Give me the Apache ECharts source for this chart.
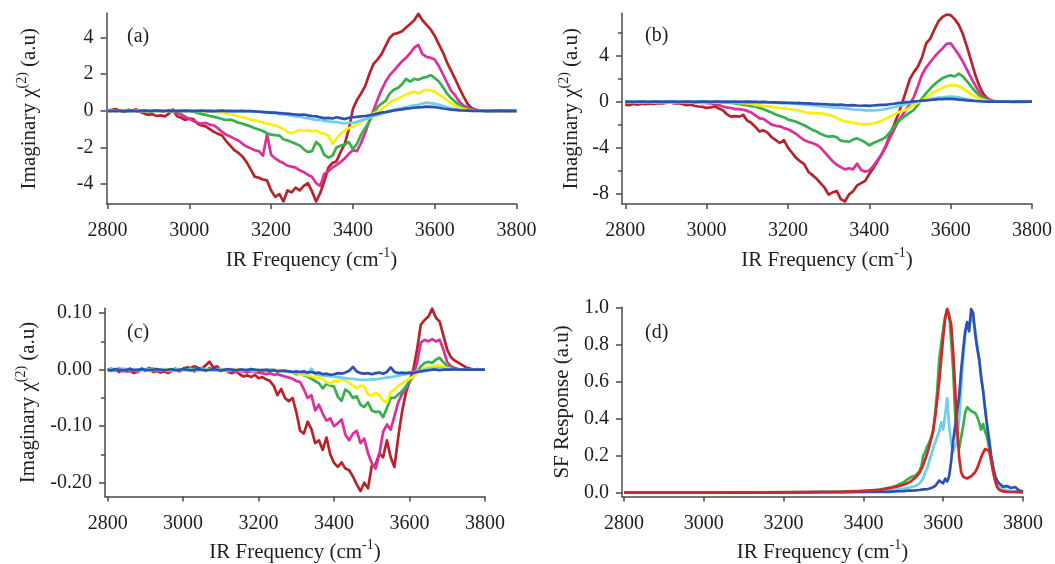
<!DOCTYPE html>
<html><head><meta charset="utf-8">
<script src="https://cdn.jsdelivr.net/npm/echarts@6.0.0/dist/echarts.min.js"></script>
<style>html,body{margin:0;padding:0;background:#fff}#c{width:1055px;height:564px}</style>
</head><body><div id="c"></div><script>
// ---------- DATA ----------
const FREQ = [2800,2810,2820,2830,2840,2850,2860,2870,2880,2890,2900,2910,2920,2930,2940,2950,2960,2970,2980,2990,
3000,3010,3020,3030,3040,3050,3060,3070,3080,3090,3100,3110,3120,3130,3140,3150,3160,3170,3180,3190,
3200,3210,3220,3230,3240,3250,3260,3270,3280,3290,3300,3310,3320,3330,3340,3350,3360,3370,3380,3390,
3400,3410,3420,3430,3440,3450,3460,3470,3480,3490,3500,3510,3520,3530,3540,3550,3560,3570,3580,3590,
3600,3610,3620,3630,3640,3650,3660,3670,3680,3690,3700,3710,3720,3730,3740,3750,3760,3770,3780,3790,3800];

const FREQ_D = [2800,2850,2900,2950,3000,3050,3100,3150,3200,3250,3300,3350,3400,
3410,3420,3430,3440,3450,3460,3470,3480,3490,3500,3510,3520,
3525,3530,3535,3540,3545,3550,3555,3560,3565,3570,3575,3580,3585,3590,3595,3600,3605,3610,3615,3620,
3625,3630,3635,3640,3645,3650,3655,3660,3665,3670,3675,3680,3685,3690,3695,3700,3705,3710,3715,3720,
3725,3730,3735,3740,3745,3750,3760,3770,3780,3790,3800];

const X_TICKS = [2800,3000,3200,3400,3600,3800];

// panel (a)
const RED_A = [0.0,0.05,0.1,0.0,-0.05,0.05,0.0,0.08,-0.05,-0.15,
-0.22,-0.18,-0.28,-0.25,-0.3,-0.15,0.08,-0.3,-0.38,-0.5,
-0.42,-0.45,-0.7,-0.8,-0.85,-1.0,-1.15,-1.25,-1.35,-1.65,
-1.9,-2.15,-2.3,-2.5,-2.8,-3.2,-3.6,-3.65,-3.75,-3.8,
-4.35,-4.7,-4.55,-4.95,-4.35,-4.45,-4.2,-4.35,-4.1,-3.95,
-4.4,-4.95,-4.5,-3.85,-3.1,-2.85,-2.75,-2.25,-1.8,-1.0,
0.1,0.6,0.95,1.35,2.0,2.55,2.8,3.1,3.55,4.0,
4.2,4.25,4.35,4.55,4.75,4.95,5.3,4.95,4.7,4.45,
4.1,3.65,3.2,2.65,2.2,1.75,1.25,0.8,0.4,0.15,
0.06,0.03,0.01,0.0,0.01,0.0,-0.01,0.0,0.01,0.0,0.0];
const MAG_A = [0.0,0.02,-0.02,0.03,0.0,-0.02,0.02,0.0,-0.03,0.02,
0.0,-0.02,0.03,-0.02,0.0,0.02,-0.05,-0.1,-0.2,-0.32,
-0.45,-0.55,-0.65,-0.7,-0.66,-0.75,-0.8,-0.95,-1.15,-1.3,
-1.4,-1.52,-1.62,-1.8,-1.95,-2.05,-2.15,-2.2,-2.45,-1.3,
-2.4,-2.6,-2.75,-2.85,-3.0,-3.05,-3.1,-3.25,-3.35,-3.5,
-3.6,-3.95,-4.1,-3.45,-3.3,-3.1,-2.95,-2.8,-2.6,-2.35,
-2.15,-2.2,-1.75,-1.2,-0.55,0.0,0.6,1.15,1.6,1.95,
2.2,2.45,2.7,2.9,3.15,3.45,3.6,3.1,2.95,2.9,
2.8,2.45,2.0,1.55,1.1,0.85,0.5,0.3,0.18,0.1,
0.05,0.02,0.01,0.0,0.0,0.01,0.0,0.0,-0.01,0.0,0.0];
const GRN_A = [0.0,0.01,-0.01,0.02,0.0,-0.02,0.01,0.0,0.02,-0.01,
0.0,0.01,-0.02,0.0,0.02,0.0,-0.01,0.01,-0.02,0.0,
-0.02,-0.05,-0.12,-0.18,-0.22,-0.28,-0.33,-0.38,-0.45,-0.5,
-0.48,-0.55,-0.65,-0.7,-0.78,-0.85,-0.95,-1.02,-1.1,-1.22,
-1.3,-1.33,-1.35,-1.55,-1.62,-1.7,-1.8,-1.9,-2.1,-2.25,
-2.2,-1.7,-1.9,-2.4,-2.55,-2.45,-2.0,-1.9,-1.85,-1.7,
-2.1,-1.8,-1.3,-0.95,-0.6,-0.15,0.2,0.4,0.55,0.95,
1.15,1.25,1.45,1.75,1.6,1.75,1.7,1.8,1.85,1.95,
1.8,1.6,1.3,0.95,0.7,0.5,0.3,0.18,0.1,0.05,
0.02,0.01,0.0,0.01,0.0,-0.01,0.0,0.0,0.01,0.0,0.0];
const YEL_A = [0.0,-0.01,0.01,0.0,0.02,0.0,-0.01,0.01,0.0,-0.02,
0.0,0.01,0.0,-0.01,0.02,0.0,-0.01,0.0,0.01,-0.02,
-0.01,0.0,-0.02,-0.01,-0.03,-0.02,-0.05,-0.08,-0.1,-0.15,
-0.2,-0.22,-0.3,-0.35,-0.4,-0.48,-0.52,-0.58,-0.62,-0.7,
-0.75,-0.8,-0.88,-1.0,-1.15,-1.22,-1.15,-1.05,-1.1,-1.05,
-1.12,-1.08,-1.2,-1.25,-1.35,-1.8,-1.5,-1.25,-1.1,-0.95,
-0.85,-0.75,-0.6,-0.45,-0.3,-0.15,-0.05,0.08,0.25,0.45,
0.58,0.65,0.78,0.9,0.97,1.05,0.95,1.08,1.15,1.12,
1.05,0.9,0.75,0.58,0.42,0.28,0.18,0.1,0.05,0.02,
0.01,0.0,0.0,0.01,0.0,0.0,-0.01,0.0,0.0,0.0,0.0];
const CYN_A = [0.0,0.02,-0.01,0.0,0.01,-0.02,0.0,0.01,0.0,-0.01,
0.01,0.0,-0.02,0.0,0.01,0.0,-0.01,0.02,0.0,-0.01,
0.0,0.01,-0.01,0.0,0.02,0.0,-0.02,0.0,0.01,-0.01,
0.0,-0.02,0.0,-0.01,-0.03,-0.02,-0.05,-0.05,-0.08,-0.1,
-0.1,-0.12,-0.18,-0.2,-0.22,-0.25,-0.3,-0.32,-0.38,-0.4,
-0.45,-0.5,-0.48,-0.55,-0.58,-0.6,-0.62,-0.65,-0.68,-0.66,
-0.65,-0.6,-0.52,-0.45,-0.4,-0.3,-0.22,-0.15,-0.08,0.0,
0.05,0.1,0.15,0.2,0.25,0.3,0.33,0.4,0.45,0.42,
0.38,0.33,0.27,0.2,0.14,0.1,0.06,0.03,0.02,0.01,
0.0,0.01,0.0,0.0,-0.01,0.0,0.0,0.01,0.0,0.0,0.0];
const BLU_A = [0.0,-0.01,0.01,0.0,-0.02,0.0,0.01,-0.01,0.0,0.01,
-0.01,0.0,0.02,0.0,-0.01,0.01,0.0,-0.02,0.0,0.01,
0.0,-0.01,0.0,0.01,-0.01,0.0,-0.02,0.0,0.01,-0.01,
0.0,-0.01,-0.02,0.0,-0.01,-0.02,-0.03,-0.05,-0.06,-0.08,
-0.1,-0.1,-0.12,-0.14,-0.15,-0.18,-0.2,-0.22,-0.2,-0.25,
-0.28,-0.3,-0.35,-0.4,-0.38,-0.42,-0.35,-0.4,-0.45,-0.38,
-0.35,-0.33,-0.3,-0.28,-0.25,-0.2,-0.15,-0.1,-0.07,-0.03,
0.02,0.05,0.08,0.12,0.14,0.17,0.19,0.2,0.23,0.22,
0.2,0.17,0.13,0.1,0.07,0.05,0.03,0.02,0.01,0.0,
0.01,0.0,0.0,-0.01,0.0,0.0,0.01,0.0,0.0,0.0,0.0];

// panel (b)
const RED_B = [-0.25,-0.3,-0.2,-0.25,-0.18,-0.22,-0.15,-0.2,-0.12,-0.15,
-0.1,-0.05,-0.15,-0.12,-0.2,-0.3,-0.25,-0.35,-0.42,-0.45,
-0.55,-0.5,-0.4,-0.6,-0.75,-1.1,-1.3,-1.25,-1.3,-1.15,
-1.65,-1.85,-2.2,-2.6,-2.5,-2.7,-3.1,-3.35,-3.6,-3.35,
-4.0,-4.45,-4.9,-5.2,-5.45,-6.1,-6.4,-6.7,-7.1,-7.5,
-8.1,-7.9,-7.8,-8.5,-8.7,-8.1,-7.8,-7.3,-7.1,-6.9,
-6.3,-5.8,-5.2,-4.6,-3.9,-3.0,-2.1,-1.2,-0.2,0.9,
2.0,2.6,3.1,3.9,5.1,5.5,6.3,7.0,7.4,7.6,
7.55,7.2,6.7,5.9,4.8,3.6,2.4,1.4,0.7,0.3,
0.1,0.03,0.0,0.01,0.0,0.0,-0.01,0.0,0.0,0.0,0.0];
const MAG_B = [-0.05,-0.08,-0.06,-0.1,-0.07,-0.05,-0.09,-0.06,-0.08,-0.05,
-0.07,-0.04,-0.06,-0.08,-0.05,-0.07,-0.06,-0.09,-0.08,-0.1,
-0.1,-0.15,-0.2,-0.3,-0.42,-0.5,-0.55,-0.65,-0.65,-0.7,
-0.8,-0.95,-1.2,-1.45,-1.5,-1.75,-2.0,-2.1,-2.15,-2.3,
-2.4,-2.6,-2.8,-3.1,-3.35,-3.5,-3.6,-3.75,-4.0,-4.4,
-4.8,-5.2,-5.5,-5.7,-5.9,-5.8,-5.9,-5.4,-5.95,-6.1,
-6.0,-5.6,-5.1,-4.6,-4.0,-3.2,-2.5,-1.8,-1.25,-0.7,
-0.2,0.45,1.4,2.4,3.0,3.45,3.9,4.3,4.65,5.05,
5.1,4.6,4.1,3.5,2.8,2.1,1.45,0.85,0.45,0.2,
0.08,0.02,0.0,0.01,0.0,0.0,0.0,-0.01,0.0,0.0,0.0];
const GRN_B = [-0.03,-0.05,-0.02,-0.06,-0.04,-0.03,-0.05,-0.02,-0.04,-0.06,
-0.03,-0.05,-0.04,-0.02,-0.05,-0.04,-0.06,-0.03,-0.05,-0.04,
-0.05,-0.06,-0.04,-0.07,-0.06,-0.08,-0.1,-0.15,-0.2,-0.27,
-0.3,-0.38,-0.42,-0.55,-0.65,-0.8,-0.95,-1.12,-1.25,-1.35,
-1.55,-1.65,-1.75,-1.9,-2.05,-2.25,-2.45,-2.6,-2.8,-2.95,
-3.05,-3.0,-3.1,-3.4,-3.45,-3.5,-3.3,-3.2,-3.35,-3.55,
-3.8,-3.6,-3.45,-3.3,-3.1,-2.7,-2.2,-1.8,-1.45,-1.2,
-0.95,-0.7,-0.25,0.3,0.75,1.15,1.5,1.8,2.05,2.2,
2.3,2.2,2.45,2.2,1.8,1.35,0.9,0.55,0.3,0.15,
0.06,0.02,0.0,0.0,0.01,0.0,0.0,0.0,-0.01,0.0,0.0];
const YEL_B = [-0.02,-0.04,-0.03,-0.05,-0.02,-0.04,-0.03,-0.05,-0.02,-0.04,
-0.03,-0.05,-0.04,-0.02,-0.04,-0.03,-0.05,-0.04,-0.03,-0.05,
-0.04,-0.03,-0.05,-0.04,-0.06,-0.05,-0.07,-0.08,-0.1,-0.12,
-0.15,-0.2,-0.27,-0.32,-0.35,-0.4,-0.45,-0.5,-0.55,-0.58,
-0.62,-0.68,-0.72,-0.8,-0.9,-0.98,-1.0,-1.02,-1.0,-1.08,
-1.15,-1.25,-1.45,-1.6,-1.72,-1.75,-1.85,-1.9,-1.95,-2.0,
-1.95,-1.88,-1.8,-1.65,-1.5,-1.3,-1.15,-0.95,-0.8,-0.72,
-0.5,-0.27,-0.08,0.1,0.35,0.62,0.9,1.05,1.2,1.35,
1.42,1.45,1.35,1.15,0.9,0.65,0.45,0.3,0.17,0.08,
0.03,0.01,0.0,0.0,0.0,0.01,0.0,0.0,0.0,0.0,0.0];
const CYN_B = [0.0,-0.02,0.01,-0.01,0.0,-0.03,0.0,-0.01,0.01,-0.02,
0.0,-0.01,-0.02,0.0,0.01,-0.01,0.0,-0.02,-0.01,0.0,
-0.01,0.0,-0.02,-0.01,0.0,-0.02,-0.01,-0.03,-0.02,-0.01,
-0.03,-0.02,-0.04,-0.03,-0.04,-0.05,-0.08,-0.1,-0.12,-0.15,
-0.15,-0.18,-0.2,-0.22,-0.25,-0.28,-0.3,-0.35,-0.38,-0.42,
-0.45,-0.5,-0.52,-0.55,-0.58,-0.62,-0.68,-0.7,-0.72,-0.75,
-0.76,-0.75,-0.74,-0.7,-0.65,-0.55,-0.48,-0.4,-0.3,-0.22,
-0.12,-0.05,0.02,0.08,0.15,0.22,0.3,0.35,0.38,0.42,
0.45,0.42,0.38,0.3,0.24,0.17,0.12,0.08,0.04,0.02,
0.01,0.0,0.0,0.01,0.0,0.0,0.0,0.0,0.0,0.0,0.0];
const BLU_B = [0.0,0.01,-0.01,0.0,0.02,0.0,-0.01,0.01,0.0,-0.02,
0.0,0.01,0.0,-0.01,0.0,0.02,0.0,-0.01,0.0,0.01,
0.0,-0.01,0.0,0.01,-0.02,0.0,-0.01,0.0,-0.02,-0.01,
0.0,-0.02,-0.01,-0.03,-0.02,-0.04,-0.05,-0.06,-0.08,-0.07,
-0.09,-0.1,-0.12,-0.11,-0.14,-0.15,-0.17,-0.18,-0.2,-0.22,
-0.24,-0.25,-0.27,-0.26,-0.3,-0.32,-0.3,-0.33,-0.35,-0.34,
-0.36,-0.33,-0.3,-0.28,-0.27,-0.22,-0.18,-0.13,-0.08,-0.04,
-0.01,0.03,0.06,0.1,0.12,0.15,0.18,0.22,0.23,0.24,
0.25,0.22,0.18,0.16,0.12,0.09,0.06,0.04,0.02,0.01,
0.0,0.01,0.0,0.0,0.0,-0.01,0.0,0.0,0.0,0.0,0.0];

// panel (c)
const RED_C = [0.0,-0.002,0.001,-0.004,0.0,-0.003,-0.002,-0.006,-0.003,0.002,
-0.001,0.003,-0.004,-0.002,-0.005,-0.003,-0.006,-0.002,0.001,-0.003,
0.002,0.004,0.003,0.006,0.003,0.002,0.008,0.014,0.004,0.006,
-0.002,0.001,-0.004,-0.006,-0.003,-0.008,-0.012,-0.01,-0.013,-0.009,
-0.015,-0.013,-0.017,-0.02,-0.028,-0.045,-0.034,-0.05,-0.056,-0.05,
-0.075,-0.108,-0.113,-0.092,-0.105,-0.13,-0.125,-0.142,-0.12,-0.15,
-0.165,-0.172,-0.164,-0.175,-0.178,-0.189,-0.203,-0.215,-0.2,-0.21,
-0.17,-0.168,-0.148,-0.155,-0.125,-0.155,-0.172,-0.12,-0.075,-0.042,
-0.02,0.0,0.036,0.08,0.088,0.094,0.108,0.092,0.085,0.06,
0.035,0.022,0.016,0.012,0.008,0.004,0.002,0.0,0.001,0.0,0.0];
const MAG_C = [0.0,0.002,-0.002,0.001,-0.003,0.0,0.002,-0.002,-0.004,0.001,
-0.002,0.003,0.0,-0.002,0.001,-0.003,0.0,-0.001,0.002,-0.002,
0.001,-0.001,0.002,-0.003,0.0,0.001,-0.002,0.003,-0.001,0.0,
-0.002,0.0,-0.003,-0.001,-0.004,-0.002,-0.003,-0.005,-0.002,-0.004,
-0.005,-0.006,-0.008,-0.006,-0.009,-0.008,-0.01,-0.012,-0.014,-0.016,
-0.02,-0.022,-0.035,-0.05,-0.045,-0.072,-0.062,-0.078,-0.09,-0.086,
-0.1,-0.095,-0.088,-0.115,-0.125,-0.113,-0.108,-0.13,-0.122,-0.148,
-0.165,-0.175,-0.15,-0.11,-0.097,-0.106,-0.082,-0.058,-0.043,-0.035,
-0.022,-0.01,0.012,0.048,0.053,0.05,0.054,0.05,0.053,0.035,
0.013,0.006,0.003,0.001,0.0,0.0,0.0,0.0,0.0,0.0,0.0];
const GRN_C = [0.0,0.001,-0.001,0.002,0.0,-0.001,0.001,0.0,-0.002,0.001,
0.0,-0.001,0.002,0.0,-0.001,0.001,0.0,-0.002,0.001,0.0,
0.001,0.0,-0.001,0.002,0.0,-0.001,0.001,0.0,-0.001,0.0,
0.001,-0.001,0.0,-0.002,0.0,0.001,-0.001,0.0,-0.002,0.0,
-0.001,0.0,-0.002,-0.001,0.0,-0.002,-0.001,-0.002,-0.003,-0.005,
-0.008,-0.007,-0.01,-0.012,-0.016,-0.02,-0.024,-0.033,-0.025,-0.028,
-0.03,-0.048,-0.055,-0.035,-0.04,-0.05,-0.047,-0.062,-0.066,-0.058,
-0.072,-0.075,-0.074,-0.084,-0.068,-0.05,-0.05,-0.044,-0.038,-0.03,
-0.02,-0.012,-0.004,0.006,0.012,0.014,0.012,0.018,0.021,0.013,
0.006,0.003,0.001,0.0,0.0,0.0,0.0,0.0,0.0,0.0,0.0];
const YEL_C = [0.0,-0.001,0.001,0.0,-0.001,0.002,0.0,-0.001,0.0,0.001,
0.0,-0.002,0.0,0.001,-0.001,0.0,0.001,-0.001,0.0,0.002,
0.0,-0.001,0.001,0.0,-0.002,0.0,0.001,0.0,-0.001,0.0,
0.001,0.0,-0.001,0.0,0.001,-0.001,0.0,-0.001,0.0,-0.002,
0.0,-0.001,0.0,-0.002,-0.001,0.0,-0.001,-0.002,-0.004,-0.006,
-0.005,-0.008,-0.009,-0.01,-0.012,-0.014,-0.015,-0.016,-0.022,-0.025,
-0.02,-0.021,-0.016,-0.019,-0.024,-0.028,-0.033,-0.028,-0.03,-0.044,
-0.046,-0.041,-0.045,-0.055,-0.058,-0.04,-0.035,-0.029,-0.024,-0.02,
-0.016,-0.012,-0.006,-0.002,0.003,0.005,0.005,0.007,0.008,0.005,
0.003,0.001,0.0,0.0,0.0,0.0,0.0,0.0,0.0,0.0,0.0];
const CYN_C = [0.0,0.001,-0.001,0.0,0.002,0.0,-0.001,0.001,0.0,-0.001,
0.001,0.0,-0.001,0.0,0.001,0.0,-0.002,0.0,0.001,0.0,
-0.001,0.0,0.001,0.0,-0.001,0.002,0.0,-0.001,0.0,0.001,
0.0,-0.001,0.0,0.001,-0.001,0.0,-0.001,0.0,0.001,-0.001,
0.0,-0.001,0.0,0.001,-0.001,-0.002,-0.002,-0.003,-0.003,-0.004,
-0.005,-0.004,-0.006,-0.006,0.002,-0.008,-0.009,-0.01,-0.011,-0.012,
-0.012,-0.013,-0.014,-0.015,-0.016,-0.016,-0.017,-0.018,-0.018,-0.018,
-0.017,-0.017,-0.016,-0.015,-0.014,-0.013,-0.012,-0.011,-0.009,-0.008,
-0.006,-0.004,-0.003,-0.001,0.0,0.002,0.002,0.003,0.003,0.002,
0.001,0.001,0.0,0.0,0.0,0.0,0.0,0.0,0.0,0.0,0.0];
const BLU_C = [0.0,-0.001,0.001,0.0,-0.001,0.0,0.001,-0.001,0.0,0.001,
0.0,-0.001,0.0,0.001,0.0,-0.001,0.0,0.001,-0.001,0.0,
0.001,0.0,-0.001,0.0,0.001,0.0,-0.001,0.0,0.001,0.0,
-0.001,0.0,0.001,0.0,-0.001,0.0,0.0,-0.001,0.001,0.0,
-0.001,-0.001,0.0,-0.002,-0.001,-0.003,-0.002,-0.002,-0.003,-0.004,
-0.003,-0.004,-0.003,-0.005,-0.004,-0.006,-0.005,-0.008,-0.007,-0.009,
-0.008,-0.006,-0.007,-0.005,-0.002,0.005,-0.003,-0.006,-0.007,-0.006,
-0.008,-0.006,-0.005,-0.007,-0.004,0.004,-0.004,-0.006,-0.005,-0.006,
-0.005,-0.006,-0.004,-0.003,-0.002,-0.001,0.0,0.0,-0.001,0.0,
0.0,0.0,0.001,0.0,0.0,0.0,0.0,0.0,0.0,0.0,0.0];

// panel (d)
const RED_D = [0,0,0,0,0,0,0.001,0.001,0.001,0.002,0.003,0.004,0.009,
0.01,0.011,0.013,0.015,0.018,0.022,0.026,0.03,0.035,0.042,0.05,0.062,
0.07,0.08,0.09,0.105,0.125,0.15,0.18,0.21,0.25,0.29,0.34,0.41,0.5,0.6,0.72,0.84,0.94,0.99,0.98,0.91,
0.76,0.56,0.35,0.19,0.11,0.085,0.078,0.076,0.08,0.088,0.095,0.11,0.13,0.16,0.19,0.215,0.235,0.24,0.225,0.18,
0.12,0.065,0.03,0.015,0.008,0.006,0.004,0.003,0.003,0.002,0.002];
const GRN_D = [0,0,0,0,0,0.001,0.001,0.001,0.002,0.003,0.004,0.005,0.008,
0.01,0.012,0.014,0.016,0.02,0.025,0.028,0.035,0.045,0.055,0.07,0.085,
0.092,0.09,0.1,0.115,0.14,0.2,0.22,0.25,0.27,0.3,0.33,0.43,0.55,0.72,0.8,0.88,0.95,0.99,0.96,0.82,
0.66,0.42,0.28,0.24,0.3,0.36,0.43,0.46,0.47,0.44,0.45,0.43,0.41,0.38,0.34,0.37,0.33,0.3,0.24,0.17,
0.11,0.07,0.04,0.025,0.018,0.014,0.008,0.005,0.004,0.003,0.002];
const CYN_D = [0,0,0,0,0,0,0.001,0.001,0.001,0.002,0.002,0.003,0.004,
0.005,0.006,0.007,0.008,0.01,0.012,0.013,0.016,0.018,0.02,0.024,0.03,
0.033,0.035,0.04,0.048,0.06,0.08,0.11,0.13,0.17,0.2,0.24,0.27,0.3,0.33,0.38,0.34,0.42,0.51,0.36,0.27,
0.22,0.21,0.28,0.4,0.56,0.72,0.85,0.91,0.88,0.96,0.93,0.88,0.8,0.73,0.64,0.55,0.46,0.37,0.3,0.2,
0.13,0.08,0.045,0.03,0.022,0.018,0.012,0.008,0.006,0.004,0.003];
const BLU_D = [0,0,0,0,0,0,0,0.001,0.001,0.001,0.002,0.002,0.003,
0.003,0.003,0.004,0.004,0.004,0.004,0.005,0.006,0.007,0.008,0.01,0.011,
0.012,0.012,0.013,0.014,0.015,0.017,0.02,0.018,0.022,0.025,0.03,0.035,0.045,0.065,0.055,0.05,0.075,0.06,0.09,0.17,
0.28,0.36,0.44,0.52,0.66,0.77,0.87,0.92,0.87,0.99,0.97,0.86,0.78,0.72,0.62,0.55,0.45,0.36,0.28,0.2,
0.14,0.09,0.065,0.05,0.04,0.032,0.035,0.025,0.03,0.012,0.006];

const Y_TICKS_A = [-4,-2,0,2,4];
const Y_TICKS_B = [-8,-4,0,4];
const Y_MINOR_B = [-6,-2,2,6];
const Y_TICKS_C = [-0.2,-0.1,0,0.1];
const Y_MINOR_C = [-0.15,-0.05,0.05];
const Y_TICKS_D = [0,0.2,0.4,0.6,0.8,1.0];

// ---------- STYLE ----------
const FONT = '"Liberation Serif","Times New Roman",serif';
const TXT = '#1e1e1e';
const AX = '#4a4a4a';
const C = {red:'#b8232b', mag:'#dc2f99', grn:'#36b04a', yel:'#faee0a', cyn:'#6fcfe8', blu:'#2e50b2', redD:'#d4252a'};

const rich = {
  n:{fontFamily:FONT, fontSize:21, color:TXT},
  s:{fontFamily:FONT, fontSize:14, color:TXT, padding:[0,0,14,0]}
};

function pairs(xs, ys){ return xs.map((x,i)=>[x, ys[i]]); }

function xAxis(gi, min){
  return {type:'value', gridIndex:gi, min:min, max:3800,
    axisLine:{show:true, onZero:false, lineStyle:{color:AX, width:1.5}},
    axisTick:{show:true, length:5, customValues:X_TICKS, lineStyle:{color:AX, width:1.5}},
    axisLabel:{customValues:X_TICKS, formatter:v=>String(v), fontFamily:FONT, fontSize:20, color:TXT, margin:17},
    splitLine:{show:false},
    name:'{n|IR Frequency (cm}{s|-1}{n|)}', nameLocation:'middle', nameGap:42,
    nameTextStyle:{rich:rich}};
}
function yAxis(gi, min, max, ticks, fmt, name, gap){
  return {type:'value', gridIndex:gi, min:min, max:max, position:'left',
    axisLine:{show:true, onZero:false, lineStyle:{color:AX, width:1.5}},
    axisTick:{show:true, length:6, customValues:ticks, lineStyle:{color:AX, width:1.5}},
    axisLabel:{customValues:ticks, formatter:fmt, fontFamily:FONT, fontSize:20, color:TXT, margin:13},
    splitLine:{show:false},
    name:name, nameLocation:'middle', nameGap:gap, nameRotate:90,
    nameTextStyle:{rich:rich}};
}
function yMinor(gi, min, max, ticks){
  return {type:'value', gridIndex:gi, min:min, max:max, position:'left', offset:0,
    axisLine:{show:false, onZero:false}, axisLabel:{show:false}, splitLine:{show:false},
    axisTick:{show:true, length:4, customValues:ticks, lineStyle:{color:AX, width:1.5}}};
}
function line(xi, yi, xs, ys, color, w){
  return {type:'line', xAxisIndex:xi, yAxisIndex:yi, data:pairs(xs, ys), showSymbol:false, symbol:'none',
    silent:true, animation:false, lineStyle:{color:color, width:w||2.7, join:'round'}, itemStyle:{color:color}};
}

const IMAG = '{n|Imaginary χ}{s|(2)}{n| (a.u)}';
const SF = '{n|SF Response (a.u)}';
const fInt = v => String(v);
const f2 = v => v.toFixed(2);
const f1 = v => v.toFixed(1);
const lbl = (t, l, tp) => ({text:t, left:l, top:tp, padding:0,
  textStyle:{fontFamily:FONT, fontSize:20, fontWeight:'normal', color:TXT}});

const option = {
  backgroundColor:'#fff',
  animation:false,
  title:[lbl('(a)',127,27), lbl('(b)',645,26), lbl('(c)',127,323), lbl('(d)',645,323)],
  grid:[
    {left:106.5, top:13.3, width:410, height:190.7},
    {left:622, top:13.3, width:411, height:190.7},
    {left:105, top:308.3, width:380, height:192.2},
    {left:622, top:307.3, width:401, height:192.7}
  ],
  xAxis:[xAxis(0,2797.5), xAxis(1,2792), xAxis(2,2793), xAxis(3,2795)],
  yAxis:[
    yAxis(0,-5.09,5.33,Y_TICKS_A,fInt,IMAG,63),
    yAxis(1,-8.92,7.71,Y_TICKS_B,fInt,IMAG,37),
    yAxis(2,-0.2244,0.1087,Y_TICKS_C,f2,IMAG,63),
    yAxis(3,-0.0212,1.0,Y_TICKS_D,f1,SF,49),
    yMinor(1,-8.92,7.71,Y_MINOR_B),
    yMinor(2,-0.2244,0.1087,Y_MINOR_C)
  ],
  series:[
    line(0,0,FREQ,RED_A,C.red), line(0,0,FREQ,MAG_A,C.mag), line(0,0,FREQ,GRN_A,C.grn),
    line(0,0,FREQ,YEL_A,C.yel), line(0,0,FREQ,CYN_A,C.cyn), line(0,0,FREQ,BLU_A,C.blu),
    line(1,1,FREQ,RED_B,C.red), line(1,1,FREQ,MAG_B,C.mag), line(1,1,FREQ,GRN_B,C.grn),
    line(1,1,FREQ,YEL_B,C.yel), line(1,1,FREQ,CYN_B,C.cyn), line(1,1,FREQ,BLU_B,C.blu),
    line(2,2,FREQ,RED_C,C.red), line(2,2,FREQ,MAG_C,C.mag), line(2,2,FREQ,GRN_C,C.grn),
    line(2,2,FREQ,YEL_C,C.yel), line(2,2,FREQ,CYN_C,C.cyn), line(2,2,FREQ,BLU_C,C.blu),
    line(3,3,FREQ_D,GRN_D,C.grn), line(3,3,FREQ_D,CYN_D,C.cyn), line(3,3,FREQ_D,BLU_D,C.blu),
    line(3,3,FREQ_D,RED_D,C.redD)
  ]
};
const chart = echarts.init(document.getElementById('c'), null, {renderer:'canvas'});
chart.setOption(option);
</script></body></html>
